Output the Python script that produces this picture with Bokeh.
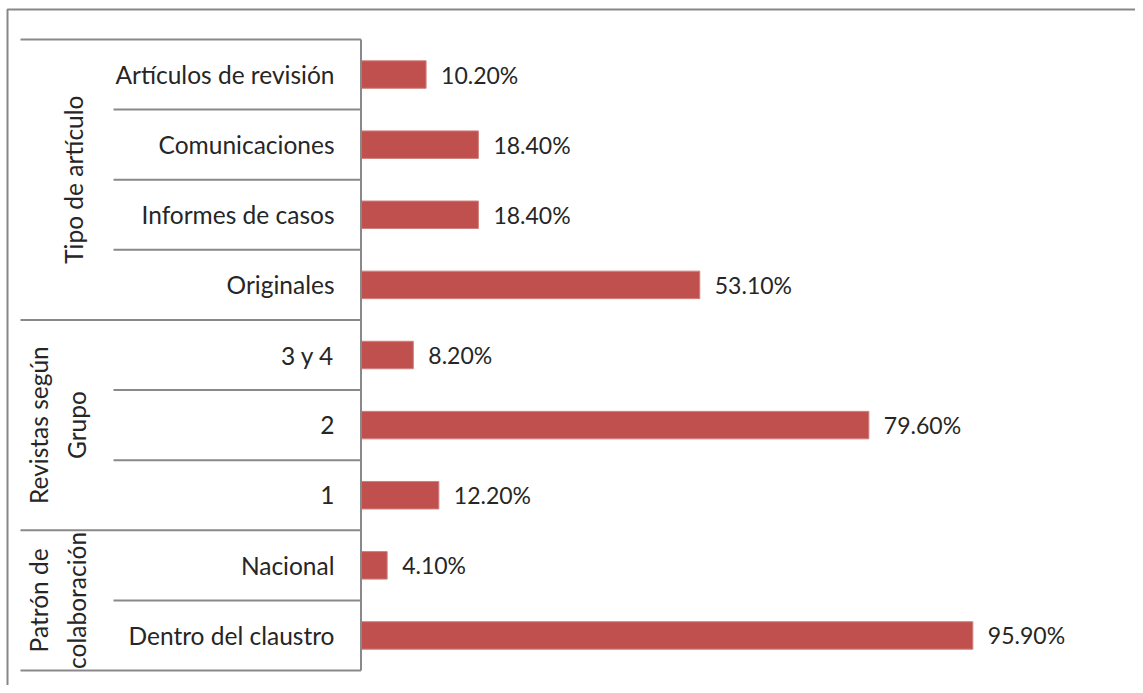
from bokeh.plotting import figure
from bokeh.models import Range1d, ColumnDataSource
from bokeh.core.properties import value
from bokeh.embed import file_html
from bokeh.resources import INLINE

# ---- data (top to bottom) ----
categories = ["Artículos de revisión", "Comunicaciones", "Informes de casos", "Originales",
              "3 y 4", "2", "1",
              "Nacional", "Dentro del claustro"]
values = [10.2, 18.4, 18.4, 53.1, 8.2, 79.6, 12.2, 4.1, 95.9]
value_labels = ["10.20%", "18.40%", "18.40%", "53.10%", "8.20%", "79.60%", "12.20%", "4.10%", "95.90%"]
groups = ["Tipo de artículo", "Revistas según\nGrupo", "Patrón de\ncolaboración"]
group_sizes = [4, 3, 2]

FONT = "Lato"
TXT = "#262626"
LINE = "#898989"
BAR = "#C0504D"

W, H = 1135, 685
n = len(categories)
# pixel geometry of the plot area (from the figure's left/top edge)
ax_px = 360.5          # value axis position
px_per_pct = 6.38
top_px, bot_px = 39.0, 670.0
row_px = (bot_px - top_px) / n

x0 = -ax_px / px_per_pct
x1 = (W - ax_px) / px_per_pct
y1 = n + top_px / row_px
y0 = -(H - bot_px) / row_px

p = figure(width=W, height=H, output_backend="svg", toolbar_location=None,
           x_range=Range1d(x0, x1), y_range=Range1d(y0, y1),
           min_border=0, min_border_left=0, min_border_right=0,
           min_border_top=0, min_border_bottom=0)
p.xaxis.visible = False
p.yaxis.visible = False
p.grid.visible = False
p.outline_line_color = None
p.background_fill_color = "white"
p.border_fill_color = "white"

def px2x(px):
    return (px - ax_px) / px_per_pct

def px2y(py):
    return (bot_px - py) / row_px

# chart border (top / left visible)
p.quad(left=px2x(7), right=px2x(1300), top=px2y(9), bottom=px2y(900),
       fill_color=None, line_color="#878787", line_width=2)

ys = [n - i - 0.5 for i in range(n)]
src = ColumnDataSource(dict(y=ys, v=values, cat=categories, lab=value_labels))

# bars
p.hbar(y="y", right="v", left=0, height=27.5 / row_px, source=src,
       fill_color=BAR, line_color="#D0807E", line_width=1)

# value labels
p.text(x="v", y="y", text="lab", source=src, x_offset=15,
       text_align="left", text_baseline="middle", text_color=TXT,
       text_font=value(FONT), text_font_size="23px")

# category labels
p.text(x=px2x(334), y="y", text="cat", source=src,
       text_align="right", text_baseline="middle", text_color=TXT,
       text_font=value(FONT), text_font_size="24.5px")

# table lines
xa = px2x(20)
xb = px2x(113)
p.segment(x0=0, y0=0, x1=0, y1=n, line_color=LINE, line_width=2)
p.segment(x0=xa, y0=n, x1=0, y1=n, line_color=LINE, line_width=2)
start = n
gx, gy, gt = [], [], []
for g, size in zip(groups, group_sizes):
    end = start - size
    for k in range(1, size):
        p.segment(x0=xb, y0=start - k, x1=0, y1=start - k, line_color=LINE, line_width=2)
    p.segment(x0=xa, y0=end, x1=0, y1=end, line_color=LINE, line_width=2)
    gx.append(px2x(73) if "\n" not in g else px2x(57))
    gy.append((start + end) / 2)
    gt.append(g)
    start = end

p.text(x=gx, y=gy, text=gt, angle=1.5708, text_align="center", text_baseline="middle",
       text_color=TXT, text_font=value(FONT), text_font_size="24.5px",
       text_line_height=1.3)

open("out.html", "w").write(file_html(p, INLINE))
